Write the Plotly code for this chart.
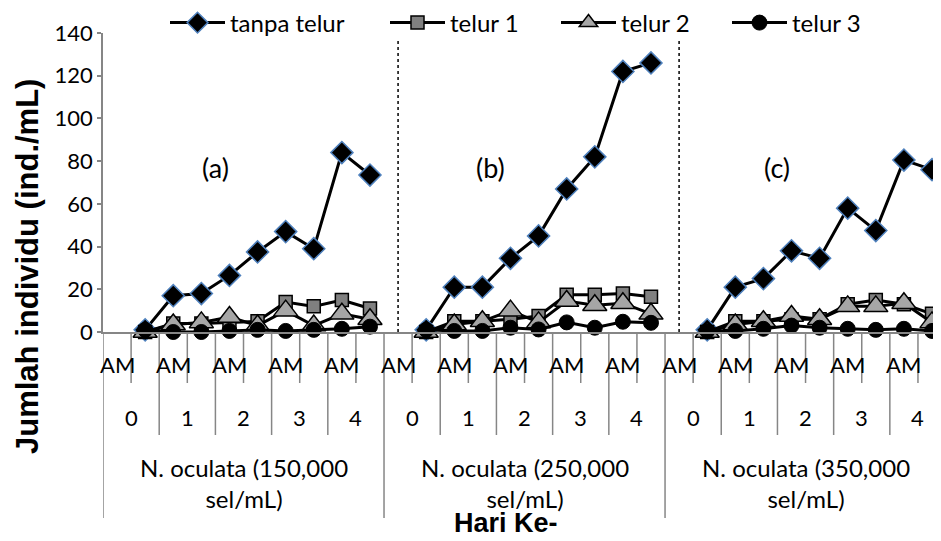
import plotly.graph_objects as go

# ---------------- data ----------------
group_labels = ["N. oculata (150,000<br>sel/mL)",
                "N. oculata (250,000<br>sel/mL)",
                "N. oculata (350,000<br>sel/mL)"]
panel_labels = ["(a)", "(b)", "(c)"]
day_labels = ["0", "1", "2", "3", "4"]
time_label = "AM"
series_names = ["tanpa telur", "telur 1", "telur 2", "telur 3"]

tanpa_telur = [None, 1, 17, 18, 26.5, 37.5, 47, 39, 84, 73.5,
               None, 1, 21, 21, 34.5, 45, 67, 82, 122, 126,
               None, 1, 21, 25, 38, 34.5, 58, 47.5, 80.5, 76]
telur_1 = [None, 0, 4, 4, 4.5, 5, 14, 12, 15, 11,
           None, 0, 5, 5, 6, 7.5, 17.5, 17.5, 18, 16.5,
           None, 0, 5, 5, 6, 6, 13, 15, 13, 8.5]
telur_2 = [None, 0, 3.5, 4.5, 7, 3, 10, 3, 8.5, 6,
           None, 0, 3.5, 5, 10, 4.5, 14.5, 12.5, 13.5, 8.5,
           None, 0, 3.5, 5, 7.5, 6, 12, 12, 13.5, 4.5]
telur_3 = [None, 1, 0, 0, 0.5, 1, 0.5, 1, 1.5, 2.5,
           None, 1, 0.5, 0.5, 2, 1.2, 4.5, 2, 4.8, 4.3,
           None, 0.5, 0.5, 1.5, 3, 2, 1.5, 1, 1.5, 0.5]

# ---------------- layout constants ----------------
# The page body has an 8px margin, so the figure is 8px smaller and everything
# is expressed in screen pixels minus that offset.
OFF = 8
W, H = 941 - OFF, 541 - OFF
PLOT_LEFT, PLOT_TOP, PLOT_BOTTOM = 103, 33, 332      # screen pixels
ML = PLOT_LEFT - OFF
MT = PLOT_TOP - OFF
MB = H - (PLOT_BOTTOM - OFF)
MR = 0
plot_h = PLOT_BOTTOM - PLOT_TOP
plot_w = W - ML - MR

n_groups = len(group_labels)
per_day = 2
per_group = per_day * len(day_labels)
n_cat = per_group * n_groups
x = list(range(n_cat))

FONT = "Lato"
AXIS_GREY = "#868686"

def py(sy):  # screen y -> paper y
    return (PLOT_BOTTOM - sy) / plot_h

def px(sx):  # screen x -> paper x
    return (sx - PLOT_LEFT) / plot_w

fig = go.Figure()

styles = [
    dict(symbol="diamond", size=17, color="black", line=dict(color="#4F81BD", width=1.5)),
    dict(symbol="square", size=13, color="#808080", line=dict(color="black", width=1.5)),
    dict(symbol="triangle-up", size=21, color="#A6A6A6", line=dict(color="black", width=1.5)),
    dict(symbol="circle", size=15, color="black", line=dict(color="black", width=1)),
]
all_series = [tanpa_telur, telur_1, telur_2, telur_3]
legend_ids = ["legend", "legend2", "legend3", "legend4"]
legend_x = [157, 377, 548, 719]   # container px

for name, vals, st, lg in zip(series_names, all_series, styles, legend_ids):
    fig.add_trace(go.Scatter(
        x=x, y=vals, name=name, mode="lines+markers",
        line=dict(color="black", width=3),
        marker=st, connectgaps=False, cliponaxis=False,
        legend=lg,
    ))

layout_legends = {}
for lg, lx in zip(legend_ids, legend_x):
    layout_legends[lg] = dict(
        xref="container", yref="container",
        x=lx / W, y=1 - (23 - OFF) / H, xanchor="left", yanchor="middle",
        orientation="h", itemwidth=55,
        font=dict(family=FONT, size=24, color="black"),
        bgcolor="rgba(0,0,0,0)", borderwidth=0,
        tracegroupgap=0, itemclick=False, itemdoubleclick=False,
    )

shapes = []
# separators between panels (dotted)
for g in range(1, n_groups):
    xc = g * per_group
    shapes.append(dict(type="line", xref="x", yref="paper", x0=xc, x1=xc,
                       y0=0, y1=py(38), line=dict(color="black", width=1.5, dash="dot")))
# category boundary lines in label area
for k in range(n_cat + 1):
    xb = k - 0.5
    if k % per_group == 0:
        y1 = py(518)
    elif k % per_day == 0:
        y1 = py(435)
    else:
        y1 = py(383)
    shapes.append(dict(type="line", xref="x", yref="paper", x0=xb, x1=xb,
                       y0=0, y1=y1, line=dict(color=AXIS_GREY, width=1.5)))

annotations = []
for k in range(0, n_cat, 2):
    annotations.append(dict(x=k, y=py(364), xref="x", yref="paper", text=time_label,
                            showarrow=False, font=dict(family=FONT, size=22, color="black"),
                            xanchor="center", yanchor="middle"))
for g in range(n_groups):
    for d, lab in enumerate(day_labels):
        annotations.append(dict(x=g * per_group + d * per_day + 0.5, y=py(417), xref="x", yref="paper",
                                text=lab, showarrow=False,
                                font=dict(family=FONT, size=22, color="black"),
                                xanchor="center", yanchor="middle"))
    annotations.append(dict(x=g * per_group + (per_group - 1) / 2, y=py(483), xref="x", yref="paper",
                            text=group_labels[g], showarrow=False,
                            font=dict(family=FONT, size=24, color="black"),
                            xanchor="center", yanchor="middle"))
panel_x = [3.5, 13.3, 23.5]
for g in range(n_groups):
    annotations.append(dict(x=panel_x[g], y=77, xref="x", yref="y", text=panel_labels[g],
                            showarrow=False, font=dict(family=FONT, size=27, color="black"),
                            xanchor="center", yanchor="middle"))
annotations.append(dict(x=px(506), y=py(523), xref="paper", yref="paper",
                        text="<b>Hari Ke-</b>", showarrow=False,
                        font=dict(family="Liberation Sans", size=27, color="black"),
                        xanchor="center", yanchor="middle"))
annotations.append(dict(x=px(27), y=py(267), xref="paper", yref="paper",
                        text="<b>Jumlah individu (ind./mL)</b>", showarrow=False, textangle=-90,
                        font=dict(family="Liberation Sans", size=31, color="black"),
                        xanchor="center", yanchor="middle"))

fig.update_layout(
    width=W, height=H,
    margin=dict(l=ML, r=MR, t=MT, b=MB, pad=0, autoexpand=False),
    paper_bgcolor="white", plot_bgcolor="white",
    showlegend=True,
    shapes=shapes, annotations=annotations,
    **layout_legends,
)
fig.update_xaxes(range=[-0.5, 29.32], showticklabels=False, showgrid=False, zeroline=False,
                 showline=True, linecolor=AXIS_GREY, linewidth=1.5, ticks="", automargin=False)
fig.update_yaxes(range=[0, 140], dtick=20, showgrid=False, zeroline=False,
                 showline=True, linecolor=AXIS_GREY, linewidth=1.5, automargin=False,
                 ticks="outside", ticklen=4, tickcolor=AXIS_GREY, tickwidth=1.5,
                 tickfont=dict(family=FONT, size=22, color="black"))

fig.write_html("out.html")
